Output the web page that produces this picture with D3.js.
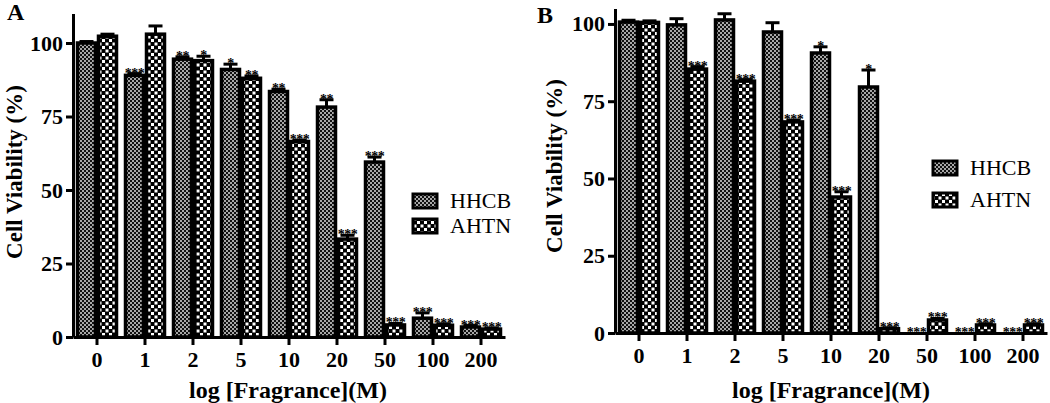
<!DOCTYPE html>
<html>
<head>
<meta charset="utf-8">
<script src="https://cdn.jsdelivr.net/npm/d3@7"></script>
<style>
  body { margin: 0; background: #fff; }
  svg { display: block; }
  svg text { font-family: "Liberation Serif", "Times New Roman", Times, serif; fill: #000; }
</style>
</head>
<body>
<div class="chart"></div>
<script>
// concentrations on the x axis (same for both panels)
const categories = ["0", "1", "2", "5", "10", "20", "50", "100", "200"];
const seriesNames = ["HHCB", "AHTN"];
const yTicks = [0, 25, 50, 75, 100];

// panel A
const hhcbA = [100, 89, 94.5, 91, 83.5, 78.2, 59.5, 6.4, 3.4];
const hhcbAErr = [0.5, 0.6, 0.8, 1.8, 0.8, 2.5, 1.7, 1.8, 0.5];
const hhcbASig = ["", "***", "**", "*", "**", "**", "***", "***", "***"];
const ahtnA = [102.3, 103, 94, 88, 66.5, 33.3, 4.1, 4, 2.7];
const ahtnAErr = [0.7, 2.8, 1.5, 0.8, 0.5, 1.3, 0.5, 0.5, 0.4];
const ahtnASig = ["", "", "*", "**", "***", "***", "***", "***", "***"];

// panel B
const hhcbB = [100.6, 99.7, 101.3, 97.4, 90.6, 79.6, 0, 0, 0];
const hhcbBErr = [0.6, 2, 2, 3, 2, 5.5, 0, 0, 0];
const hhcbBSig = ["", "", "", "", "*", "*", "***", "***", "***"];
const ahtnB = [100.5, 85.4, 81.5, 68.3, 44, 1.4, 4.2, 2.6, 2.6];
const ahtnBErr = [0.5, 0.8, 0.5, 0.6, 1.7, 0.3, 0.5, 0.4, 0.4];
const ahtnBSig = ["", "***", "***", "***", "***", "***", "***", "***", "***"];

const svg = d3.select(".chart").append("svg")
  .attr("width", 1050)
  .attr("height", 403);

// fill patterns: fine check for HHCB, coarse check for AHTN
const defs = svg.append("defs");
const fine = defs.append("pattern")
  .attr("id", "pat-HHCB")
  .attr("patternUnits", "userSpaceOnUse")
  .attr("width", 4).attr("height", 4);
fine.append("rect").attr("width", 4).attr("height", 4).attr("fill", "#111");
fine.append("rect").attr("width", 2).attr("height", 2).attr("fill", "#a8a8a8");
fine.append("rect").attr("x", 2).attr("y", 2).attr("width", 2).attr("height", 2).attr("fill", "#a8a8a8");

const coarse = defs.append("pattern")
  .attr("id", "pat-AHTN")
  .attr("patternUnits", "userSpaceOnUse")
  .attr("width", 7).attr("height", 7);
coarse.append("rect").attr("width", 7).attr("height", 7).attr("fill", "#000");
coarse.append("rect").attr("x", 0.5).attr("y", 0.5).attr("width", 3).attr("height", 3).attr("fill", "#fff");
coarse.append("rect").attr("x", 4).attr("y", 4).attr("width", 3).attr("height", 3).attr("fill", "#fff");

// one panel = axes + grouped bars + error bars + stars + legend
const drawPanel = (p) => {
  const g = svg.append("g");

  const x = d3.scaleBand()
    .domain(categories)
    .range([p.left, p.right])
    .paddingInner(0.125)
    .paddingOuter(0.0625);
  const x1 = d3.scaleBand().domain(seriesNames).range([0, x.bandwidth()]);
  const y = d3.scaleLinear().domain([0, p.yMax]).range([p.zero, p.top]);

  const rows = [];
  seriesNames.forEach((s, si) => {
    p.values[si].forEach((v, i) => {
      rows.push({ cat: categories[i], series: s, value: v, err: p.errors[si][i], sig: p.sigs[si][i] });
    });
  });

  // bars
  g.selectAll(".bar")
    .data(rows)
    .enter()
    .append("rect")
    .attr("class", "bar")
    .attr("x", (d) => x(d.cat) + x1(d.series) + 1.5)
    .attr("width", x1.bandwidth() - 3)
    .attr("y", (d) => y(d.value))
    .attr("height", (d) => y(0) - y(d.value))
    .attr("fill", (d) => `url(#pat-${d.series})`)
    .attr("stroke", "#000")
    .attr("stroke-width", 3.5);

  // error bars (upper half only)
  const withErr = rows.filter((d) => d.err > 0);
  const cx = (d) => x(d.cat) + x1(d.series) + x1.bandwidth() / 2;
  g.selectAll(".err")
    .data(withErr)
    .enter()
    .append("line")
    .attr("x1", cx).attr("x2", cx)
    .attr("y1", (d) => y(d.value))
    .attr("y2", (d) => y(d.value + d.err))
    .attr("stroke", "#000")
    .attr("stroke-width", 3);
  g.selectAll(".cap")
    .data(withErr)
    .enter()
    .append("line")
    .attr("x1", (d) => cx(d) - 7).attr("x2", (d) => cx(d) + 7)
    .attr("y1", (d) => y(d.value + d.err))
    .attr("y2", (d) => y(d.value + d.err))
    .attr("stroke", "#000")
    .attr("stroke-width", 3);

  // significance stars
  g.selectAll(".sig")
    .data(rows.filter((d) => d.sig))
    .enter()
    .append("text")
    .attr("x", cx)
    .attr("y", (d) => y(d.value + d.err) + 4)
    .attr("text-anchor", "middle")
    .attr("font-size", 14)
    .attr("font-weight", "bold")
    .attr("letter-spacing", -0.5)
    .text((d) => d.sig);

  // axes
  const yAxis = g.append("g")
    .attr("transform", `translate(${p.left},0)`)
    .call(d3.axisLeft(y).tickValues(yTicks).tickSize(7).tickSizeOuter(0).tickPadding(3));
  const xAxis = g.append("g")
    .attr("transform", `translate(0,${p.zero})`)
    .call(d3.axisBottom(x).tickSize(8).tickSizeOuter(0).tickPadding(6));
  [yAxis, xAxis].forEach((a) => {
    a.attr("font-family", null).attr("font-size", null);
    a.select(".domain").attr("stroke-width", 3);
    a.selectAll(".tick line").attr("stroke-width", 3);
    a.selectAll("text")
      .attr("font-size", 22)
      .attr("font-weight", "bold")
      .attr("fill", "#000");
  });

  // axis titles
  g.append("text")
    .attr("transform", `translate(${p.yLabelX},${p.yLabelY}) rotate(-90)`)
    .attr("text-anchor", "middle")
    .attr("font-size", 23)
    .attr("font-weight", "bold")
    .text("Cell Viability (%)");
  g.append("text")
    .attr("x", p.xLabelX)
    .attr("y", 398)
    .attr("text-anchor", "middle")
    .attr("font-size", 24)
    .attr("font-weight", "bold")
    .text("log [Fragrance](M)");

  // panel letter
  g.append("text")
    .attr("x", p.letterX)
    .attr("y", p.letterY)
    .attr("font-size", 24)
    .attr("font-weight", "bold")
    .text(p.letter);

  // legend
  seriesNames.forEach((s, i) => {
    const ly = p.legendY + i * p.legendGap;
    g.append("rect")
      .attr("x", p.legendX).attr("y", ly)
      .attr("width", 24).attr("height", 14)
      .attr("fill", `url(#pat-${s})`)
      .attr("stroke", "#000")
      .attr("stroke-width", 3);
    g.append("text")
      .attr("x", p.legendX + 37)
      .attr("y", ly + 14)
      .attr("font-size", 22)
      .text(s);
  });
};

drawPanel({
  letter: "A", letterX: 7, letterY: 20,
  left: 73, right: 505, zero: 337, top: 13.6, yMax: 110,
  values: [hhcbA, ahtnA], errors: [hhcbAErr, ahtnAErr], sigs: [hhcbASig, ahtnASig],
  yLabelX: 22, yLabelY: 172, xLabelX: 288,
  legendX: 413, legendY: 194, legendGap: 25
});

drawPanel({
  letter: "B", letterX: 537, letterY: 23,
  left: 615, right: 1047, zero: 333, top: 8.5, yMax: 105,
  values: [hhcbB, ahtnB], errors: [hhcbBErr, ahtnBErr], sigs: [hhcbBSig, ahtnBSig],
  yLabelX: 562, yLabelY: 166, xLabelX: 831,
  legendX: 933, legendY: 161, legendGap: 32
});
</script>
</body>
</html>
